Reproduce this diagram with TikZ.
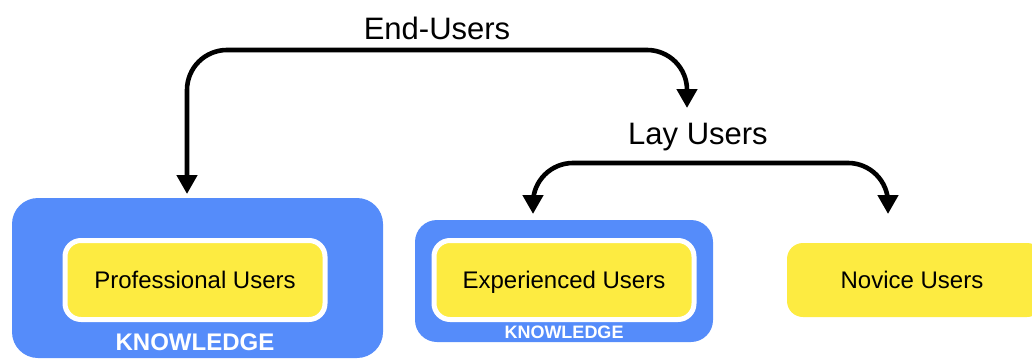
\documentclass[tikz,border=0pt]{standalone}
\usepackage{fontspec}
\setmainfont{Liberation Sans}
\usetikzlibrary{arrows.meta}
\definecolor{kblue}{RGB}{85,140,250}
\definecolor{uyellow}{RGB}{253,235,65}
\begin{document}
\begin{tikzpicture}[x=1pt,y=-1pt,
 kbox/.style={fill=kblue, rounded corners=26pt, inner sep=0pt},
 ubox/.style={fill=uyellow, draw=white, line width=5pt, rounded corners=16pt, minimum width=260pt, minimum height=79pt, inner sep=0pt, text height=19pt, text depth=3pt, font=\fontsize{24}{28}\selectfont},
 nbox/.style={fill=uyellow, rounded corners=16pt, minimum width=256pt, minimum height=74pt, inner sep=0pt},
 ktext/.style={text=white, inner sep=0pt, font=\bfseries},
 conn/.style={line width=4.6pt, rounded corners=40pt, {Triangle[length=19pt,width=20pt]}-{Triangle[length=19pt,width=20pt]}},
 lbl/.style={inner sep=0pt, font=\fontsize{31}{36}\selectfont}]
\useasboundingbox (0,0) rectangle (1032,361);
% professional
\node[kbox, minimum width=371pt, minimum height=160pt] (kpro) at (197.5,278) {};
\node[ubox] (pro) at (195,280) {Professional Users};
\node[ktext, font=\bfseries\fontsize{24}{28}\selectfont] (kprot) at (195,342) {KNOWLEDGE};
% experienced
\node[kbox, minimum width=298pt, minimum height=122pt, rounded corners=22pt] (kexp) at (564,281) {};
\node[ubox] (exp) at (564,280) {Experienced Users};
\node[ktext, font=\bfseries\fontsize{18}{21}\selectfont] (kexpt) at (564,332) {KNOWLEDGE};
% novice
\node[nbox] (nov) at (915,280) {};
\node[font=\fontsize{24}{28}\selectfont, inner sep=0pt, text height=19pt, text depth=3pt] (novt) at (912,280) {Novice Users};
% connectors
\coordinate (eL) at (187,194);
\coordinate (eTop) at (437,50);
\coordinate (eR) at (687,108);
\coordinate (lL) at (533,214);
\coordinate (lTop) at (698,163);
\coordinate (lR) at (888,214);
\draw[conn] (eL) |- (eTop) -| (eR);
\draw[conn] (lL) |- (lTop) -| (lR);
\node[lbl] (endl) at (437,28) {End-Users};
\node[lbl] (layl) at (698,137) {Lay Users};
\end{tikzpicture}
\end{document}
